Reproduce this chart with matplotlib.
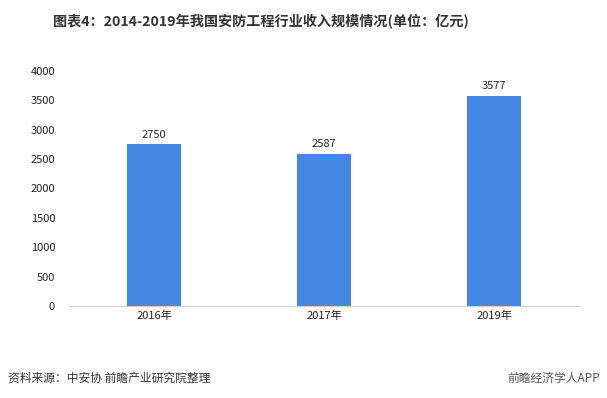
import matplotlib.pyplot as plt
import numpy as np

plt.rcParams['font.family'] = ['Noto Sans CJK SC', 'DejaVu Sans']

years = ['2016年', '2017年', '2019年']
revenue = [2750, 2587, 3577]
yticks = [0, 500, 1000, 1500, 2000, 2500, 3000, 3500, 4000]

fig = plt.figure(figsize=(6.07, 3.98), dpi=100)
ax = fig.add_axes([69 / 607, 1 - 306 / 398, 510 / 607, 235 / 398])

x = np.arange(len(years))
bars = ax.bar(x, revenue, width=0.32, color='#4488e3')
for xi, v in zip(x, revenue):
    ax.text(xi, v + 80, str(v), ha='center', va='bottom', fontsize=8, color='#222222')

ax.set_xlim(-0.5, len(years) - 0.5)
ax.set_ylim(0, 4000)
ax.set_yticks(yticks)
ax.set_xticks(x)
ax.set_xticklabels(years)
ax.tick_params(axis='both', length=0, labelsize=8, colors='#222222')
ax.tick_params(axis='y', pad=10)
for s in ['top', 'right', 'left']:
    ax.spines[s].set_visible(False)
ax.spines['bottom'].set_color('#d0d0d0')

fig.text(261 / 607, 1 - 22 / 398, '图表4：2014-2019年我国安防工程行业收入规模情况(单位：亿元)',
         ha='center', va='center', fontsize=10.2, fontweight='bold', color='#333333')
fig.text(8 / 607, 1 - 378 / 398, '资料来源：中安协 前瞻产业研究院整理',
         ha='left', va='center', fontsize=8.5, color='#333333')
fig.text(600 / 607, 1 - 378 / 398, '前瞻经济学人APP',
         ha='right', va='center', fontsize=8.5, color='#555555')

fig.savefig('out.png', dpi=100)
